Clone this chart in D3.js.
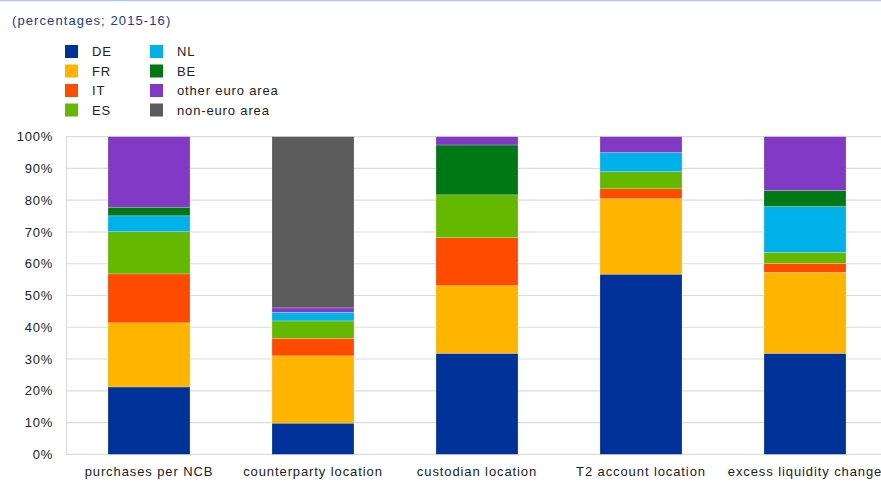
<!DOCTYPE html>
<html>
<head>
<meta charset="utf-8">
<script src="https://cdn.jsdelivr.net/npm/d3@7"></script>
<style>
  body { margin: 0; background: #fff; }
  svg text { font-family: "Liberation Sans", Arial, sans-serif; }
</style>
</head>
<body>
<div id="chart"></div>
<script>
// ===== data ==========================================================
const categories = ['purchases per NCB', 'counterparty location', 'custodian location', 'T2 account location', 'excess liquidity change'];
const seriesNames = ['DE', 'FR', 'IT', 'ES', 'NL', 'BE', 'other euro area', 'non-euro area'];
const seriesColors = ['#003299', '#ffb400', '#ff4b00', '#65b800', '#00b1ea', '#007816', '#8139c6', '#5c5c5c'];

const DE      = [21.2,  9.8, 31.8, 56.7, 31.8];
const FR      = [20.2, 21.2, 21.3, 23.8, 25.5];
const IT      = [15.4,  5.5, 15.1,  3.1,  2.8];
const ES      = [13.3,  5.5, 13.5,  5.4,  3.5];
const NL      = [ 5.0,  2.7,  0.0,  6.0, 14.4];
const BE      = [ 2.7,  0.0, 15.7,  0.0,  5.1];
const otherEA = [22.2,  1.4,  2.6,  5.0, 16.9];
const nonEA   = [ 0.0, 53.9,  0.0,  0.0,  0.0];

const yTicks = [0, 10, 20, 30, 40, 50, 60, 70, 80, 90, 100];

// table for the stack
const seriesValues = [DE, FR, IT, ES, NL, BE, otherEA, nonEA];
const rows = categories.map((c, i) => {
    let r = {cat: c};
    seriesNames.forEach((s, j) => r[s] = seriesValues[j][i]);
    return r;
});

// ===== layout ========================================================
const svgWidth = 881;
const svgHeight = 491;

const svg = d3.select('#chart').append('svg')
    .attr('width', svgWidth)
    .attr('height', svgHeight);

// thin top rule
svg.append('line')
    .attr('x1', 0).attr('x2', svgWidth)
    .attr('y1', 0.5).attr('y2', 0.5)
    .attr('stroke', '#b4c6e7')
    .attr('stroke-width', 1.5);

svg.append('text')
    .attr('x', 12).attr('y', 25)
    .attr('fill', '#22398c')
    .style('font-size', '13px')
    .style('letter-spacing', '1.1px')
    .text('(percentages; 2015-16)');

// legend
const legend = svg.append('g');
seriesNames.forEach((s, i) => {
    const col = Math.floor(i / 4), row = i % 4;
    const g = legend.append('g')
        .attr('transform', `translate(${65 + col * 85}, ${45 + row * 19.5})`);
    g.append('rect')
        .attr('width', 13).attr('height', 13)
        .attr('fill', seriesColors[i]);
    g.append('text')
        .attr('x', 27).attr('y', 11)
        .attr('fill', '#222')
        .style('font-size', '13px')
        .style('letter-spacing', '0.85px')
        .text(s);
});

// scales
const x = d3.scaleBand().domain(categories).range([67, 887]).paddingInner(0.5).paddingOuter(0.25);
const y = d3.scaleLinear().domain([0, 100]).range([454.3, 136.7]);
const color = d3.scaleOrdinal().domain(seriesNames).range(seriesColors);

// grid
svg.append('g')
    .selectAll('line')
    .data(yTicks)
    .join('line')
    .attr('x1', 66).attr('x2', svgWidth)
    .attr('y1', d => y(d)).attr('y2', d => y(d))
    .attr('stroke', '#dcdcdc')
    .attr('stroke-width', 1.2);

svg.append('line')
    .attr('x1', 66.5).attr('x2', 66.5)
    .attr('y1', y(100)).attr('y2', y(0))
    .attr('stroke', '#dcdcdc')
    .attr('stroke-width', 1.2);

// y axis labels
const yAxis = svg.append('g')
    .attr('transform', 'translate(66,0)')
    .call(d3.axisLeft(y).tickValues(yTicks).tickFormat(d => d + '%').tickSize(0).tickPadding(13));
yAxis.select('.domain').remove();
yAxis.selectAll('text')
    .attr('fill', '#222')
    .style('font-size', '13px')
    .style('letter-spacing', '0.75px');

// bars
const stack = d3.stack().keys(seriesNames)(rows);
svg.append('g')
    .selectAll('g')
    .data(stack)
    .join('g')
    .attr('fill', d => color(d.key))
    .selectAll('rect')
    .data(d => d)
    .join('rect')
    .attr('x', d => x(d.data.cat))
    .attr('y', d => y(d[1]))
    .attr('width', x.bandwidth())
    .attr('height', d => Math.max(0, y(d[0]) - y(d[1])))
    .attr('stroke', 'rgba(255,255,255,0.35)')
    .attr('stroke-width', 0.6);

// x axis labels
const xAxis = svg.append('g')
    .attr('transform', `translate(0, ${y(0)})`)
    .call(d3.axisBottom(x).tickSize(0).tickPadding(12));
xAxis.select('.domain').remove();
xAxis.selectAll('text')
    .attr('fill', '#222')
    .style('font-size', '13px')
    .style('letter-spacing', '0.9px');
</script>
</body>
</html>
